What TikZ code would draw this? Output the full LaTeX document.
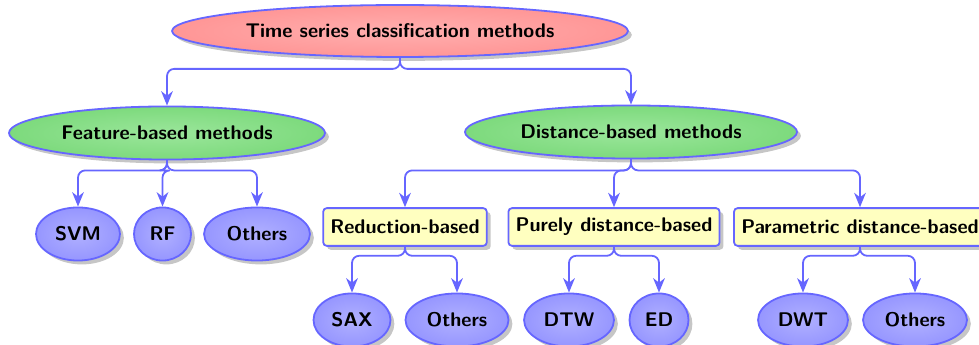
\documentclass[tikz,border=0pt]{standalone}
\usetikzlibrary{shapes.geometric,shadows,arrows.meta}
\definecolor{edgeblue}{RGB}{102,102,255}
\definecolor{rootout}{RGB}{255,150,150}
\definecolor{rootin}{RGB}{255,175,175}
\definecolor{grnout}{RGB}{125,218,125}
\definecolor{grnin}{RGB}{155,230,155}
\definecolor{bluout}{RGB}{150,150,255}
\definecolor{bluin}{RGB}{176,176,255}
\definecolor{boxfill}{RGB}{255,255,192}
\tikzset{
  base/.style={draw=edgeblue, line width=1pt,
    font=\fontsize{11}{13}\selectfont\sffamily\bfseries,
    text=black, drop shadow={opacity=0.45}},
  ell/.style={base, ellipse, inner sep=0pt},
  rootnode/.style={ell, shade, inner color=rootin, outer color=rootout,
    minimum width=253.5pt, minimum height=28.9pt},
  midnode/.style={ell, shade, inner color=grnin, outer color=grnout,
    minimum height=29.5pt},
  leaf/.style={ell, shade, inner color=bluin, outer color=bluout,
    minimum height=29.5pt},
  boxnode/.style={base, rectangle, rounded corners=2pt, fill=boxfill,
    inner xsep=4pt, minimum height=21pt},
  conn/.style={draw=edgeblue, line width=1pt, rounded corners=4pt,
    -{Stealth[length=8pt,width=6.5pt,inset=2.5pt]}}
}
\begin{document}
\begin{tikzpicture}[x=0.556pt, y=-0.556pt]
  \useasboundingbox (0,0) rectangle (979,345);

  % levels of the tree
  \node[rootnode] (root) at (400,31) {Time series classification methods};

  \node[midnode, minimum width=175.7pt] (feat) at (167,133) {Feature-based methods};
  \node[midnode, minimum width=184.6pt] (dist) at (631,132) {Distance-based methods};

  \node[leaf, minimum width=46.7pt] (svm) at (78,234) {SVM};
  \node[leaf, minimum width=31.7pt] (rf) at (162.5,234) {RF};
  \node[leaf, minimum width=58.9pt] (fothers) at (257,234) {Others};

  \node[boxnode] (red) at (405,227) {Reduction-based};
  \node[boxnode] (pure) at (614,227) {Purely distance-based};
  \node[boxnode] (param) at (860,227) {Parametric distance-based};

  \node[leaf, minimum width=42.8pt] (sax) at (352,320) {SAX};
  \node[leaf, minimum width=57.3pt] (rothers) at (457,320) {Others};
  \node[leaf, minimum width=50pt] (dtw) at (569,320) {DTW};
  \node[leaf, minimum width=32.8pt] (ed) at (659,320) {ED};
  \node[leaf, minimum width=50pt] (dwt) at (803,320) {DWT};
  \node[leaf, minimum width=57.8pt] (pothers) at (915,320) {Others};

  % connectors
  \foreach \c in {feat,dist}
    \draw[conn] (root.south) -- ++(0,11) -| (\c.north);
  \foreach \c in {svm,rf,fothers}
    \draw[conn] (feat.south) -- ++(0,10) -| (\c.north);
  \foreach \c in {red,pure,param}
    \draw[conn] (dist.south) -- ++(0,11) -| (\c.north);
  \foreach \c in {sax,rothers}
    \draw[conn] (red.south) -- ++(0,9) -| (\c.north);
  \foreach \c in {dtw,ed}
    \draw[conn] (pure.south) -- ++(0,9) -| (\c.north);
  \foreach \c in {dwt,pothers}
    \draw[conn] (param.south) -- ++(0,9) -| (\c.north);
\end{tikzpicture}
\end{document}
